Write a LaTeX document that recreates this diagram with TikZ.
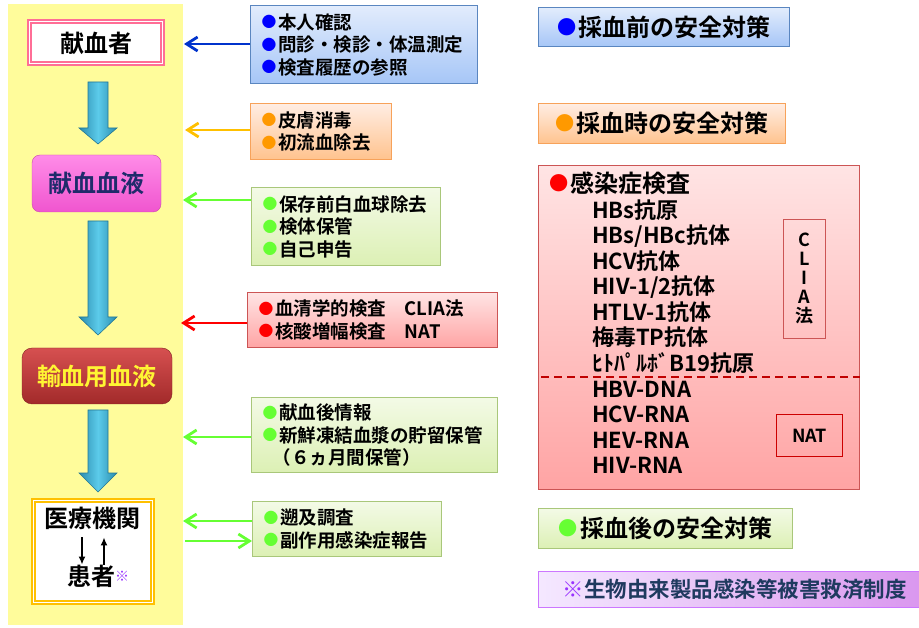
\documentclass[tikz,border=0pt]{standalone}
\usepackage{fontspec}
\setmainfont{Noto Sans CJK JP}[BoldFont={Noto Sans CJK JP Bold}]
\usetikzlibrary{arrows.meta}
\definecolor{stripyellow}{HTML}{FFFC9B}
\definecolor{teal1}{HTML}{2A8CAE}
\definecolor{teal2}{HTML}{5CCBEA}
\definecolor{donorpink}{HTML}{FF6E96}
\definecolor{plasmatop}{HTML}{FF8CE8}
\definecolor{plasmabot}{HTML}{F055CF}
\definecolor{plasmaline}{HTML}{C94CAB}
\definecolor{textnavy}{HTML}{1F2B6B}
\definecolor{redtop}{HTML}{D65050}
\definecolor{redbot}{HTML}{A22A2A}
\definecolor{hospline}{HTML}{FFC000}
\definecolor{bluetop}{HTML}{E2ECFC}
\definecolor{bluebot}{HTML}{A6C6F7}
\definecolor{blueline}{HTML}{5A86C0}
\definecolor{orangetop}{HTML}{FFEDE3}
\definecolor{orangebot}{HTML}{FFC38E}
\definecolor{orangeline}{HTML}{F7A25A}
\definecolor{greentop}{HTML}{F3FAE6}
\definecolor{greenbot}{HTML}{DCF0B4}
\definecolor{greenline}{HTML}{A9C77A}
\definecolor{pinktop}{HTML}{FFE4E4}
\definecolor{pinkbot}{HTML}{FFA4A4}
\definecolor{pinkline}{HTML}{CC5555}
\definecolor{purpleleft}{HTML}{F4E8FF}
\definecolor{purpleright}{HTML}{D995EE}
\definecolor{purpleline}{HTML}{CC77FF}
\definecolor{kome}{HTML}{9933FF}
\definecolor{reliefnavy}{HTML}{1F3A5F}
\definecolor{arrowblue}{HTML}{0033CC}
\definecolor{arroworange}{HTML}{FFC000}
\definecolor{arrowgreen}{HTML}{66FF33}
\definecolor{dotorange}{HTML}{FF9900}
\definecolor{dashred}{HTML}{C00000}
\newcommand{\bult}[1]{\textcolor{#1}{\raisebox{0.08em}{\scalebox{0.8}{●}}}\hspace{0.1em}}
\tikzset{
  flowfont/.style={font=\fontsize{24}{28}\selectfont\bfseries},
  flowarrow/.style={left color=teal1, right color=teal1, middle color=teal2, draw=teal1!85!black, line width=0.6pt},
  listbox/.style={anchor=north west, align=left, inner xsep=11pt, inner ysep=0pt, line width=1.2pt, font=\fontsize{18.5}{22.5}\selectfont\bfseries},
  titlebox/.style={anchor=north west, align=left, inner xsep=10pt, inner ysep=0pt, line width=1.2pt, font=\fontsize{24}{28}\selectfont\bfseries},
  bluebox/.style={top color=bluetop, bottom color=bluebot, draw=blueline},
  orangebox/.style={top color=orangetop, bottom color=orangebot, draw=orangeline},
  greenbox/.style={top color=greentop, bottom color=greenbot, draw=greenline},
  redbox/.style={top color=pinktop, bottom color=pinkbot, draw=pinkline},
  conn/.style={line width=2.8pt, -{Straight Barb[length=11pt,width=14pt]}},
  itemtext/.style={anchor=west, align=left, inner sep=0pt, font=\fontsize{22}{25.5}\selectfont\bfseries},
  tagbox/.style={draw=pinkline, line width=1pt, align=center, inner sep=0pt, font=\fontsize{18}{19}\selectfont\bfseries},
}
\begin{document}
\begin{tikzpicture}[x=1pt,y=-1pt]
\useasboundingbox (0,0) rectangle (919,628);

% flow column
\node[fill=stripyellow, anchor=north west, inner sep=0pt, minimum width=175pt, minimum height=621pt] (strip) at (8,4) {};
\node[flowfont, draw=donorpink, double=white, double distance=1pt, line width=2pt, fill=white, minimum width=133pt, minimum height=42pt] (donor) at (96,43) {献血者};
\node[flowfont, text=textnavy, top color=plasmatop, bottom color=plasmabot, draw=plasmaline, rounded corners=8pt, minimum width=129pt, minimum height=57pt] (plasma) at (96.5,183.5) {献血血液};
\node[flowfont, text=yellow!80!white, top color=redtop, bottom color=redbot, draw=redbot!80!black, rounded corners=10pt, minimum width=150pt, minimum height=56pt] (tblood) at (97,376) {輸血用血液};
\node[draw=hospline, double=white, double distance=1pt, line width=1.6pt, fill=white, minimum width=119pt, minimum height=102pt] (hosp) at (93,551.5) {};
\node[flowfont, inner sep=0pt] (iryo) at (93,518) {医療機関};
\node[flowfont, inner sep=0pt, anchor=west] (kanja) at (67,576) {患者\raisebox{4pt}{\textcolor{kome}{\fontsize{14}{14}\selectfont ※}}};

\foreach \ya/\yb/\yc in {82/128/144, 221/317/335, 410/473/492}
  \draw[flowarrow] (88,\ya) -- (108,\ya) -- (108,\yb) -- (117,\yb) -- (98,\yc) -- (79,\yb) -- (88,\yb) -- cycle;

\coordinate (dn) at ([xshift=-11pt]iryo.south);
\coordinate (up) at ([xshift=11pt]iryo.south);
\draw[line width=1.3pt, -{Latex[length=8pt,width=7pt]}, shorten <=8pt] (dn) -- (dn |- kanja.north);
\draw[line width=1.3pt, -{Latex[length=8pt,width=7pt]}, shorten >=8pt] (up |- kanja.north) -- (up);

% measures
\node[listbox, bluebox, text width=205pt, minimum height=78pt] (pre) at (250,5)
  {\bult{blue}本人確認\\\bult{blue}問診・検診・体温測定\\\bult{blue}検査履歴の参照};
\node[listbox, orangebox, text width=119pt, minimum height=56pt] (dur) at (250,103)
  {\bult{dotorange}皮膚消毒\\\bult{dotorange}初流血除去};
\node[listbox, greenbox, text width=167pt, minimum height=78pt] (prs) at (251,187)
  {\bult{arrowgreen}保存前白血球除去\\\bult{arrowgreen}検体保管\\\bult{arrowgreen}自己申告};
\node[listbox, redbox, text width=228pt, minimum height=55pt] (test) at (247,292)
  {\bult{red}血清学的検査　CLIA法\\\bult{red}核酸増幅検査　NAT};
\node[listbox, greenbox, text width=224pt, minimum height=75pt] (post) at (251,397)
  {\bult{arrowgreen}献血後情報\\\bult{arrowgreen}新鮮凍結血漿の貯留保管\\\hspace*{10pt}（６ヵ月間保管）};
\node[listbox, greenbox, text width=167pt, minimum height=55pt] (trace) at (252,501)
  {\bult{arrowgreen}遡及調査\\\bult{arrowgreen}副作用感染症報告};

\coordinate (p1) at (184,44);
\coordinate (p2) at (185,130);
\coordinate (p3) at (183,200);
\coordinate (p4) at (181,323);
\coordinate (p5) at (183,437);
\coordinate (p6) at (183,521);
\coordinate (p7) at (185,541);
\draw[conn, arrowblue] (p1 -| pre.west) -- (p1);
\draw[conn, arroworange] (p2 -| dur.west) -- (p2);
\draw[conn, arrowgreen] (p3 -| prs.west) -- (p3);
\draw[conn, red] (p4 -| test.west) -- (p4);
\draw[conn, arrowgreen] (p5 -| post.west) -- (p5);
\draw[conn, arrowgreen] (p6 -| trace.west) -- (p6);
\draw[conn, arrowgreen] (p7) -- (p7 -| trace.west);

% right column
\node[titlebox, bluebox, minimum width=251pt, minimum height=39pt] (tpre) at (538,7) {\bult{blue}採血前の安全対策};
\node[titlebox, orangebox, minimum width=247pt, minimum height=40pt] (tdur) at (538,103) {\bult{dotorange}採血時の安全対策};
\node[anchor=north west, redbox, line width=1.2pt, minimum width=321pt, minimum height=324pt] (inf) at (538,165) {};
\node[itemtext, font=\fontsize{24}{28}\selectfont\bfseries] (infT) at (549,183) {\bult{red}感染症検査};
\node[itemtext] (antib) at (592,286.5)
  {HBs抗原\\HBs/HBc抗体\\HCV抗体\\HIV-1/2抗体\\HTLV-1抗体\\梅毒TP抗体\\ﾋﾄﾊﾟﾙﾎﾞB19抗原};
\node[itemtext] (nucl) at (592,427.5)
  {HBV-DNA\\HCV-RNA\\HEV-RNA\\HIV-RNA};
\coordinate (cut) at (541,377);
\draw[dashred, line width=1.6pt, dash pattern=on 8pt off 5pt] (cut) -- (cut -| inf.east);
\node[tagbox, anchor=north west, minimum width=42pt, minimum height=119pt] (clia) at (783,219) {C\\L\\I\\A\\法};
\node[tagbox, anchor=north west, draw=red!80!black, minimum width=66pt, minimum height=42pt] (nat) at (776,414) {NAT};
\node[titlebox, greenbox, minimum width=254pt, minimum height=40pt] (tpost) at (538,508) {\bult{arrowgreen}採血後の安全対策};
\node[titlebox, left color=purpleleft, right color=purpleright, draw=purpleline, inner xsep=20pt, text=reliefnavy, font=\fontsize{21.5}{26}\selectfont\bfseries, minimum width=392pt, minimum height=36pt] (relief) at (538,571) {\textcolor{kome}{※}生物由来製品感染等被害救済制度};
\end{tikzpicture}
\end{document}
